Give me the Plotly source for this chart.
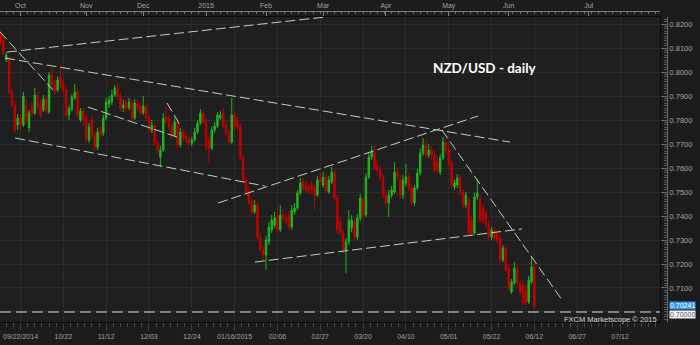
import plotly.graph_objects as go
import pandas as pd

# ---------------- data (NZD/USD daily) ----------------
opens = [
    0.8162, 0.8133, 0.8050, 0.8058, 0.7917, 0.7862, 0.7779, 0.7808, 0.7779, 0.7858,
    0.7767, 0.7858, 0.7829, 0.7904, 0.7862, 0.7842, 0.7887, 0.7833, 0.7987, 0.7946,
    0.7925, 0.7979, 0.7950, 0.7925, 0.7821, 0.7846, 0.7892, 0.7917, 0.7800, 0.7837,
    0.7808, 0.7717, 0.7800, 0.7737, 0.7687, 0.7758, 0.7746, 0.7808, 0.7867, 0.7875,
    0.7904, 0.7933, 0.7900, 0.7850, 0.7871, 0.7850, 0.7871, 0.7808, 0.7867, 0.7854,
    0.7829, 0.7858, 0.7808, 0.7758, 0.7775, 0.7704, 0.7646, 0.7675, 0.7812, 0.7804,
    0.7771, 0.7737, 0.7792, 0.7696, 0.7750, 0.7733, 0.7721, 0.7704, 0.7717, 0.7750,
    0.7787, 0.7829, 0.7792, 0.7717, 0.7683, 0.7758, 0.7775, 0.7808, 0.7829, 0.7779,
    0.7746, 0.7708, 0.7821, 0.7796, 0.7771, 0.7642, 0.7550, 0.7504, 0.7458, 0.7417,
    0.7446, 0.7312, 0.7258, 0.7237, 0.7292, 0.7342, 0.7362, 0.7400, 0.7342, 0.7404,
    0.7392, 0.7400, 0.7354, 0.7417, 0.7433, 0.7496, 0.7542, 0.7529, 0.7521, 0.7529,
    0.7517, 0.7487, 0.7558, 0.7529, 0.7562, 0.7500, 0.7542, 0.7583, 0.7475, 0.7375,
    0.7329, 0.7258, 0.7292, 0.7350, 0.7375, 0.7312, 0.7392, 0.7467, 0.7404, 0.7562,
    0.7646, 0.7667, 0.7608, 0.7592, 0.7558, 0.7487, 0.7454, 0.7487, 0.7500, 0.7583,
    0.7550, 0.7487, 0.7537, 0.7562, 0.7517, 0.7454, 0.7517, 0.7579, 0.7662, 0.7696,
    0.7654, 0.7675, 0.7654, 0.7625, 0.7583, 0.7642, 0.7708, 0.7675, 0.7621, 0.7521,
    0.7529, 0.7558, 0.7496, 0.7446, 0.7467, 0.7383, 0.7329, 0.7479, 0.7475, 0.7433,
    0.7412, 0.7362, 0.7312, 0.7337, 0.7325, 0.7308, 0.7217, 0.7267, 0.7183, 0.7083,
    0.7121, 0.7175, 0.7121, 0.7112, 0.7092, 0.7042, 0.7125, 0.7188,
]
highs = [
    0.8175, 0.8150, 0.8083, 0.8067, 0.7933, 0.7883, 0.7825, 0.7821, 0.7917, 0.7892,
    0.7842, 0.7871, 0.7933, 0.7917, 0.7883, 0.7904, 0.7900, 0.8000, 0.8017, 0.7967,
    0.7983, 0.8029, 0.7967, 0.7937, 0.7862, 0.7908, 0.7950, 0.7933, 0.7850, 0.7850,
    0.7825, 0.7787, 0.7821, 0.7750, 0.7767, 0.7775, 0.7821, 0.7892, 0.7900, 0.7925,
    0.7946, 0.7950, 0.7912, 0.7883, 0.7887, 0.7892, 0.7883, 0.7887, 0.7883, 0.7875,
    0.7900, 0.7871, 0.7821, 0.7800, 0.7787, 0.7717, 0.7692, 0.7829, 0.7858, 0.7821,
    0.7787, 0.7808, 0.7804, 0.7767, 0.7762, 0.7754, 0.7733, 0.7729, 0.7767, 0.7800,
    0.7846, 0.7842, 0.7808, 0.7733, 0.7771, 0.7792, 0.7833, 0.7837, 0.7850, 0.7792,
    0.7758, 0.7892, 0.7833, 0.7812, 0.7783, 0.7654, 0.7562, 0.7521, 0.7475, 0.7467,
    0.7458, 0.7329, 0.7275, 0.7317, 0.7375, 0.7404, 0.7417, 0.7425, 0.7446, 0.7425,
    0.7408, 0.7421, 0.7446, 0.7454, 0.7508, 0.7558, 0.7558, 0.7546, 0.7537, 0.7550,
    0.7533, 0.7567, 0.7575, 0.7583, 0.7579, 0.7567, 0.7604, 0.7596, 0.7487, 0.7392,
    0.7342, 0.7308, 0.7425, 0.7404, 0.7392, 0.7408, 0.7492, 0.7483, 0.7579, 0.7662,
    0.7692, 0.7692, 0.7633, 0.7608, 0.7571, 0.7508, 0.7508, 0.7525, 0.7625, 0.7600,
    0.7575, 0.7571, 0.7617, 0.7579, 0.7533, 0.7529, 0.7596, 0.7683, 0.7725, 0.7717,
    0.7700, 0.7692, 0.7671, 0.7646, 0.7658, 0.7729, 0.7725, 0.7692, 0.7633, 0.7550,
    0.7575, 0.7571, 0.7508, 0.7500, 0.7479, 0.7404, 0.7496, 0.7550, 0.7487, 0.7450,
    0.7425, 0.7379, 0.7354, 0.7354, 0.7342, 0.7325, 0.7279, 0.7279, 0.7200, 0.7137,
    0.7208, 0.7192, 0.7133, 0.7133, 0.7112, 0.7150, 0.7229, 0.7200,
]
lows = [
    0.8112, 0.8071, 0.8042, 0.7908, 0.7850, 0.7746, 0.7758, 0.7758, 0.7771, 0.7787,
    0.7750, 0.7812, 0.7821, 0.7842, 0.7808, 0.7833, 0.7829, 0.7825, 0.7933, 0.7904,
    0.7917, 0.7933, 0.7912, 0.7808, 0.7800, 0.7837, 0.7883, 0.7808, 0.7792, 0.7779,
    0.7708, 0.7704, 0.7725, 0.7675, 0.7675, 0.7725, 0.7733, 0.7800, 0.7850, 0.7862,
    0.7896, 0.7883, 0.7833, 0.7833, 0.7833, 0.7842, 0.7800, 0.7800, 0.7837, 0.7817,
    0.7821, 0.7796, 0.7746, 0.7746, 0.7692, 0.7662, 0.7604, 0.7667, 0.7783, 0.7758,
    0.7725, 0.7729, 0.7683, 0.7687, 0.7712, 0.7704, 0.7692, 0.7692, 0.7708, 0.7742,
    0.7779, 0.7779, 0.7675, 0.7621, 0.7675, 0.7746, 0.7767, 0.7800, 0.7767, 0.7733,
    0.7696, 0.7700, 0.7758, 0.7758, 0.7633, 0.7537, 0.7487, 0.7446, 0.7404, 0.7408,
    0.7300, 0.7246, 0.7217, 0.7175, 0.7279, 0.7329, 0.7350, 0.7329, 0.7333, 0.7375,
    0.7367, 0.7342, 0.7342, 0.7404, 0.7425, 0.7487, 0.7504, 0.7496, 0.7487, 0.7492,
    0.7425, 0.7479, 0.7529, 0.7517, 0.7496, 0.7492, 0.7533, 0.7462, 0.7329, 0.7317,
    0.7246, 0.7162, 0.7279, 0.7333, 0.7300, 0.7300, 0.7379, 0.7392, 0.7396, 0.7554,
    0.7633, 0.7587, 0.7575, 0.7546, 0.7475, 0.7437, 0.7396, 0.7475, 0.7492, 0.7550,
    0.7475, 0.7471, 0.7525, 0.7504, 0.7442, 0.7442, 0.7508, 0.7571, 0.7650, 0.7642,
    0.7642, 0.7633, 0.7579, 0.7579, 0.7571, 0.7633, 0.7662, 0.7608, 0.7517, 0.7508,
    0.7517, 0.7483, 0.7433, 0.7433, 0.7321, 0.7317, 0.7321, 0.7467, 0.7371, 0.7367,
    0.7350, 0.7300, 0.7300, 0.7296, 0.7287, 0.7204, 0.7208, 0.7167, 0.7087, 0.7075,
    0.7112, 0.7108, 0.7075, 0.7029, 0.7029, 0.7033, 0.7117, 0.7012,
]
closes = [
    0.8121, 0.8079, 0.8071, 0.7917, 0.7862, 0.7758, 0.7808, 0.7779, 0.7900, 0.7800,
    0.7829, 0.7829, 0.7904, 0.7854, 0.7821, 0.7887, 0.7842, 0.7987, 0.7946, 0.7917,
    0.7967, 0.7946, 0.7925, 0.7821, 0.7850, 0.7896, 0.7917, 0.7821, 0.7837, 0.7800,
    0.7717, 0.7771, 0.7737, 0.7687, 0.7750, 0.7737, 0.7808, 0.7875, 0.7883, 0.7904,
    0.7933, 0.7900, 0.7850, 0.7862, 0.7850, 0.7875, 0.7808, 0.7871, 0.7850, 0.7829,
    0.7858, 0.7808, 0.7758, 0.7779, 0.7704, 0.7675, 0.7675, 0.7808, 0.7800, 0.7771,
    0.7737, 0.7792, 0.7696, 0.7750, 0.7725, 0.7717, 0.7704, 0.7717, 0.7750, 0.7787,
    0.7829, 0.7792, 0.7687, 0.7683, 0.7758, 0.7775, 0.7821, 0.7821, 0.7779, 0.7746,
    0.7708, 0.7821, 0.7771, 0.7771, 0.7642, 0.7550, 0.7500, 0.7458, 0.7417, 0.7446,
    0.7312, 0.7258, 0.7237, 0.7300, 0.7354, 0.7383, 0.7392, 0.7342, 0.7404, 0.7392,
    0.7379, 0.7354, 0.7425, 0.7433, 0.7496, 0.7537, 0.7517, 0.7508, 0.7508, 0.7508,
    0.7487, 0.7550, 0.7542, 0.7562, 0.7508, 0.7550, 0.7583, 0.7475, 0.7342, 0.7329,
    0.7258, 0.7292, 0.7383, 0.7383, 0.7312, 0.7392, 0.7475, 0.7404, 0.7562, 0.7646,
    0.7667, 0.7600, 0.7592, 0.7558, 0.7487, 0.7454, 0.7487, 0.7508, 0.7583, 0.7562,
    0.7487, 0.7550, 0.7562, 0.7517, 0.7454, 0.7517, 0.7579, 0.7662, 0.7696, 0.7654,
    0.7675, 0.7654, 0.7592, 0.7592, 0.7642, 0.7708, 0.7675, 0.7621, 0.7529, 0.7537,
    0.7558, 0.7496, 0.7446, 0.7487, 0.7329, 0.7329, 0.7479, 0.7496, 0.7383, 0.7383,
    0.7362, 0.7312, 0.7342, 0.7308, 0.7300, 0.7217, 0.7267, 0.7175, 0.7100, 0.7125,
    0.7183, 0.7121, 0.7083, 0.7037, 0.7037, 0.7133, 0.7188, 0.70241,
]

# trading days (weekdays, minus the Christmas / New Year holidays)
holidays = ["2014-12-25", "2015-01-01"]
dates = [d for d in pd.bdate_range("2014-09-22", "2015-06-12")
         if d.strftime("%Y-%m-%d") not in holidays]
n = min(len(dates), len(closes))
bar_pos = list(range(n))

# bottom date axis (bar-count positions; last two are future calendar dates)
date_tick_pos = [7, 22, 37, 52, 67, 82, 97, 112, 127, 142, 157, 172, 187, 202, 217]
date_tick_text = ["09/22/2014", "10/22", "11/12", "12/03", "12/24", "01/16/2015",
                  "02/06", "02/27", "03/20", "04/10", "05/01", "05/22", "06/12",
                  "06/27", "07/12"]
# top month axis
month_pos = [7, 30, 50, 72, 93, 113, 135, 157, 178, 206]
month_text = ["Oct", "Nov", "Dec", "2015", "Feb", "Mar", "Apr", "May", "Jun", "Jul"]

price_ticks = [0.71, 0.72, 0.73, 0.74, 0.75, 0.76, 0.77, 0.78, 0.79, 0.80, 0.81, 0.82]
last_price = 0.70241
ref_level = 0.70000

# analyst trend lines: (bar index start, price start, bar index end, price end)
trend_lines = [
    (2.3, 0.8083, 113.7, 0.8229),
    (1.6, 0.8058, 178.5, 0.7708),
    (5.1, 0.7725, 92.6, 0.7525),
    (30.6, 0.7854, 62.9, 0.7725),
    (-0.2, 0.8167, 18.4, 0.7925),
    (58.3, 0.7871, 62.9, 0.7779),
    (76.2, 0.7454, 167.3, 0.7817),
    (89.1, 0.7208, 182.7, 0.7346),
    (154.6, 0.7758, 196.7, 0.7050),
]

# ---------------- figure ----------------
W, H = 700, 345
XR = [-0.18, 231.0]
YR = [0.69583, 0.82292]
GRID = "#2c2c2c"
TXT = "#a3a3a3"
FONT = "Liberation Sans"


def py_to_price(py):
    """pixel row inside the plot -> price (for placing the price boxes)"""
    return YR[1] - (py - 17) * (YR[1] - YR[0]) / 305.0


fig = go.Figure()
fig.add_trace(go.Candlestick(
    x=bar_pos, open=opens[:n], high=highs[:n], low=lows[:n], close=closes[:n],
    increasing=dict(line=dict(color="#1fb51f", width=1), fillcolor="#1fb51f"),
    decreasing=dict(line=dict(color="#c20000", width=1), fillcolor="#c20000"),
    whiskerwidth=0, showlegend=False, hoverinfo="skip",
    xaxis="x", yaxis="y",
))
# month markers on the top axis
fig.add_trace(go.Scatter(
    x=month_pos, y=[py_to_price(13)] * len(month_pos), mode="markers",
    marker=dict(symbol="triangle-down", size=7, color="#c8961c", line=dict(width=0)),
    cliponaxis=False, showlegend=False, hoverinfo="skip",
    xaxis="x2", yaxis="y",
))
# dummy trace for the price axis
fig.add_trace(go.Scatter(x=[None], y=[None], xaxis="x", yaxis="y2",
                         showlegend=False, hoverinfo="skip"))

shapes = []
for (x0, y0, x1, y1) in trend_lines:
    shapes.append(dict(type="line", xref="x", yref="y", x0=x0, y0=y0, x1=x1, y1=y1,
                       line=dict(color="#b9d3b9", width=1, dash="10px,4px"), layer="above"))
shapes.append(dict(type="line", xref="paper", yref="y", x0=0, x1=660 / W,
                   y0=ref_level, y1=ref_level,
                   line=dict(color="#dcdcdc", width=1.2, dash="11px,5px")))

annotations = [
    dict(text="<b>NZD/USD - daily</b>", xref="paper", yref="paper",
         x=485 / W, y=(H - 68) / H, xanchor="center", yanchor="middle", showarrow=False,
         font=dict(family="Lato", size=13.5, color="#ffffff")),
    dict(text="FXCM Marketscope © 2015", xref="paper", yref="paper",
         x=659 / W, y=(H - 319) / H, xanchor="right", yanchor="middle", showarrow=False,
         font=dict(family=FONT, size=7.5, color="#d8d8d8")),
    dict(text=f"{last_price:.5f}", xref="paper", yref="y", x=668.5 / W,
         y=py_to_price(309.6), xanchor="left", yanchor="bottom", showarrow=False,
         bgcolor="#3a98ea", borderpad=0, font=dict(family=FONT, size=7, color="#ffffff")),
    dict(text=f"{ref_level:.5f}", xref="paper", yref="y", x=668.5 / W,
         y=py_to_price(310.4), xanchor="left", yanchor="top", showarrow=False,
         bgcolor="#f2f2f2", borderpad=0, font=dict(family=FONT, size=7, color="#5a6070")),
]

fig.update_layout(
    width=W, height=H, margin=dict(l=0, r=0, t=0, b=0),
    paper_bgcolor="#1c1c1c", plot_bgcolor="#1f1f1f",
    font=dict(family=FONT, size=7, color=TXT),
    showlegend=False, shapes=shapes, annotations=annotations,
    xaxis=dict(domain=[0, 660 / W], range=XR, anchor="y",
               rangeslider=dict(visible=False),
               tickmode="array", tickvals=date_tick_pos, ticktext=date_tick_text,
               showgrid=True, gridcolor=GRID, gridwidth=1, zeroline=False,
               showline=True, linecolor="#0c0c0c", linewidth=1, mirror=True,
               ticks="outside", ticklen=8, tickcolor="#3a3a3a", tickwidth=1,
               minor=dict(tickmode="linear", tick0=7, dtick=2.5, ticks="outside",
                          ticklen=4, tickcolor="#4a4a4a", showgrid=False),
               tickfont=dict(family=FONT, size=7, color=TXT), fixedrange=True),
    xaxis2=dict(overlaying="x", anchor="free", position=(H - 11) / H, side="top",
                range=XR, tickmode="array", tickvals=month_pos, ticktext=month_text,
                showgrid=False, zeroline=False, showline=True, linecolor="#7d7d7d",
                ticks="inside", ticklen=4, tickcolor="#7d7d7d",
                minor=dict(tickmode="linear", tick0=7, dtick=2.5, ticks="inside",
                           ticklen=2, tickcolor="#6a6a6a", showgrid=False),
                tickfont=dict(family=FONT, size=7, color=TXT), fixedrange=True),
    yaxis=dict(domain=[23 / H, 328 / H], range=YR, anchor="x", side="right",
               tickmode="array", tickvals=price_ticks + [0.70], showticklabels=False,
               ticks="", showgrid=True, gridcolor=GRID, zeroline=False,
               showline=True, linecolor="#0c0c0c", linewidth=1, fixedrange=True),
    yaxis2=dict(overlaying="y", anchor="free", position=667 / W, side="right",
                range=YR, tickmode="array", tickvals=price_ticks, tickformat=".4f",
                showgrid=False, zeroline=False, showline=True, linecolor="#6a6a6a",
                ticks="inside", ticklen=6, tickcolor="#6a6a6a",
                minor=dict(tickmode="linear", tick0=0.70, dtick=0.001, ticks="inside",
                           ticklen=3, tickcolor="#555555", showgrid=False),
                tickfont=dict(family=FONT, size=7.5, color=TXT), fixedrange=True),
)

fig.write_html("out.html")
